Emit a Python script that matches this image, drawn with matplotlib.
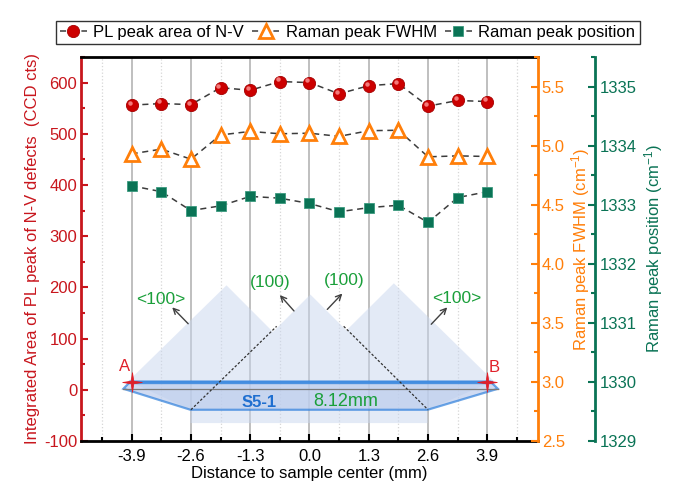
import matplotlib
matplotlib.use("Agg")
import matplotlib.pyplot as plt
import matplotlib.transforms as mtransforms
from matplotlib.patches import Polygon
from matplotlib.path import Path
from matplotlib.ticker import FixedLocator, MultipleLocator

plt.rcParams["font.family"] = ["Liberation Sans", "DejaVu Sans"]
plt.rcParams["mathtext.fontset"] = "custom"
plt.rcParams["mathtext.rm"] = "Liberation Sans"
plt.rcParams["mathtext.it"] = "Liberation Sans:italic"
plt.rcParams["axes.unicode_minus"] = False

# measured points along the A-B line (mm from centre)
distance = [-3.9, -3.25, -2.6, -1.95, -1.3, -0.65, 0.0, 0.65, 1.3, 1.95, 2.6, 3.25, 3.9]
pl_area = [556, 559, 557, 590, 585, 602, 600, 578, 594, 598, 554, 565, 563]
raman_fwhm = [4.93, 4.97, 4.885, 5.09, 5.12, 5.10, 5.105, 5.078, 5.126, 5.13, 4.905, 4.913, 4.908]
raman_pos = [1333.32, 1333.22, 1332.90, 1332.98, 1333.14, 1333.11, 1333.02,
             1332.88, 1332.95, 1332.99, 1332.70, 1333.12, 1333.22]

x_ticks = [-3.9, -2.6, -1.3, 0.0, 1.3, 2.6, 3.9]
x_minor = [-4.55, -3.25, -1.95, -0.65, 0.65, 1.95, 3.25, 4.55]
x_ticklabels = ["-3.9", "-2.6", "-1.3", "0.0", "1.3", "2.6", "3.9"]

# sample sketch drawn in (distance, PL area) coordinates
growth_x = [-3.97, -1.82, -0.80, 0.02, 0.81, 1.85, 4.04, 2.59, 2.59, -2.61, -2.61]
growth_y = [17, 204, 113, 186, 116, 208, 17, -39, -65, -65, -39]
slab_x = [-3.93, 3.97, 4.13, 2.59, -2.61, -4.08]
slab_y = [16, 16, 2, -39, -39, 2]

RED = "#C8161D"
ORANGE = "#FF7F0A"
GREEN = "#0A7355"
LABEL_GREEN = "#1A9F3A"

# thin four-point star for the A / B markers
w = 0.13
star = Path([(0, 1), (w, w), (1, 0), (w, -w), (0, -1), (-w, -w), (-1, 0), (-w, w), (0, 1)],
            [Path.MOVETO] + [Path.LINETO] * 7 + [Path.CLOSEPOLY])

fig = plt.figure(figsize=(6.75, 4.95), dpi=100)
ax1 = fig.add_axes([0.1207, 0.1091, 0.6756, 0.7758])
ax2 = ax1.twinx()
ax3 = ax1.twinx()
ax3.spines["right"].set_position(("axes", 1.127))

# grid
ax1.set_xlim(-5, 5)
ax1.xaxis.set_major_locator(FixedLocator(x_ticks))
ax1.xaxis.set_minor_locator(FixedLocator(x_minor))
ax1.set_xticklabels(x_ticklabels)
ax1.grid(True, axis="x", which="major", color="#b4b4b4", lw=1.2, ls="-")
ax1.grid(True, axis="x", which="minor", color="#d6d6d6", lw=0.9, ls=":")
ax1.set_axisbelow(True)

# sketch of the sample
ax1.add_patch(Polygon(list(zip(growth_x, growth_y)), closed=True,
                      facecolor="#c9d6ee", edgecolor="none", alpha=0.5, zorder=1))
ax1.add_patch(Polygon(list(zip(slab_x, slab_y)), closed=True,
                      facecolor="#bccded", edgecolor="#2f80dc", lw=1.6, alpha=0.7, zorder=2))
ax1.plot([-3.93, 3.97], [16, 16], color="#3f8be0", lw=2.4, alpha=0.9, zorder=3)
ax1.plot([-4.08, 4.13], [2, 2], color="#7a7a7a", lw=0.9, zorder=3)
ax1.plot([-2.6, -0.72], [-39, 124], color="#333333", lw=0.9, ls=(0, (2, 1.5)), zorder=3)
ax1.plot([0.75, 2.6], [124, -39], color="#333333", lw=0.9, ls=(0, (2, 1.5)), zorder=3)
ax1.plot([-3.9, 3.9], [16, 16], ls="none", marker=star, ms=14,
         color="#e0202a", mew=0.6, zorder=4)
ax1.text(-4.05, 46, "A", color="#e0202a", fontsize=12, ha="center", va="center")
ax1.text(4.05, 43, "B", color="#e0202a", fontsize=12, ha="center", va="center")
ax1.text(-1.1, -25, "S5-1", color="#1f6fd0", fontsize=12, fontweight="bold",
         ha="center", va="center", zorder=5)
ax1.text(0.79, -22, "8.12mm", color=LABEL_GREEN, fontsize=13,
         ha="center", va="center", zorder=5)

arrow = dict(arrowstyle="->", color="#404040", lw=1, shrinkA=0, shrinkB=0)
ax1.annotate("", xy=(-3.01, 161), xytext=(-2.66, 129), arrowprops=arrow)
ax1.annotate("", xy=(-0.65, 185), xytext=(-0.34, 154), arrowprops=arrow)
ax1.annotate("", xy=(0.72, 188), xytext=(0.39, 157), arrowprops=arrow)
ax1.annotate("", xy=(3.02, 161), xytext=(2.67, 128), arrowprops=arrow)
ax1.text(-3.27, 177, "<100>", color=LABEL_GREEN, fontsize=12.5, ha="center", va="center")
ax1.text(-0.86, 210, "(100)", color=LABEL_GREEN, fontsize=12.5, ha="center", va="center")
ax1.text(0.75, 213, "(100)", color=LABEL_GREEN, fontsize=12.5, ha="center", va="center")
ax1.text(3.24, 179, "<100>", color=LABEL_GREEN, fontsize=12.5, ha="center", va="center")

# data series
h1, = ax1.plot(distance, pl_area, ls="--", dashes=(4, 3), color="#3c3c3c", lw=1.1,
               marker="o", ms=8.8, mfc="#cc0000", mec="#a50000", mew=0.6,
               label="PL peak area of N-V", zorder=6)
shine = mtransforms.offset_copy(ax1.transData, fig=fig, x=-1.5, y=1.5, units="points")
ax1.plot(distance, pl_area, ls="none", marker="o", ms=3.2, mfc="#ff9a9a",
         mec="none", alpha=0.8, transform=shine, zorder=7)
h2, = ax2.plot(distance, raman_fwhm, ls="--", dashes=(4, 3), color="#3c3c3c", lw=1.1,
               marker="^", ms=9.5, mfc="white", mec=ORANGE, mew=2,
               label="Raman peak FWHM", zorder=6)
h3, = ax3.plot(distance, raman_pos, ls="--", dashes=(4, 3), color="#3c3c3c", lw=1.1,
               marker="s", ms=7.8, mfc=GREEN, mec="#3b9a7e", mew=0.6,
               label="Raman peak position", zorder=6)

# left axis
ax1.set_ylim(-100, 650)
ax1.yaxis.set_major_locator(MultipleLocator(100))
ax1.yaxis.set_minor_locator(MultipleLocator(50))
ax1.set_ylabel("Integrated Area of PL peak of N-V defects  (CCD cts)",
               color=RED, fontsize=12, labelpad=3)
ax1.set_xlabel("Distance to sample center (mm)", fontsize=12, labelpad=1)
ax1.spines["left"].set_color(RED)
ax1.spines["left"].set_linewidth(2)
ax1.spines["bottom"].set_linewidth(2)
ax1.spines["top"].set_linewidth(2)
ax1.spines["right"].set_visible(False)
ax1.tick_params(axis="y", which="both", colors=RED, direction="in", width=1.5, labelsize=12, pad=3)
ax1.tick_params(axis="y", which="major", length=5)
ax1.tick_params(axis="y", which="minor", length=3)
ax1.tick_params(axis="x", which="both", direction="in", width=1.5, labelsize=12, pad=6)
ax1.tick_params(axis="x", which="major", length=5)
ax1.tick_params(axis="x", which="minor", length=3)

# FWHM axis
ax2.set_ylim(2.5, 5.75)
ax2.yaxis.set_major_locator(MultipleLocator(0.5))
ax2.yaxis.set_minor_locator(MultipleLocator(0.25))
ax2.yaxis.set_major_formatter("{x:.1f}")
ax2.set_ylabel("Raman peak FWHM (cm$^{-1}$)", color=ORANGE, fontsize=12, labelpad=3)
for name in ["left", "top", "bottom"]:
    ax2.spines[name].set_visible(False)
ax2.spines["right"].set_color(ORANGE)
ax2.spines["right"].set_linewidth(2)
ax2.tick_params(axis="y", which="both", colors=ORANGE, direction="in", width=1.5, labelsize=12, pad=3)
ax2.tick_params(axis="y", which="major", length=5)
ax2.tick_params(axis="y", which="minor", length=3)

# Raman position axis
ax3.set_ylim(1329, 1335.5)
ax3.yaxis.set_major_locator(MultipleLocator(1))
ax3.yaxis.set_minor_locator(MultipleLocator(0.5))
ax3.set_ylabel("Raman peak position (cm$^{-1}$)", color=GREEN, fontsize=12, labelpad=4)
for name in ["left", "top", "bottom"]:
    ax3.spines[name].set_visible(False)
ax3.spines["right"].set_color(GREEN)
ax3.spines["right"].set_linewidth(2)
ax3.tick_params(axis="y", which="both", colors=GREEN, direction="in", width=1.5, labelsize=12, pad=3)
ax3.tick_params(axis="y", which="major", length=5)
ax3.tick_params(axis="y", which="minor", length=3)

leg = fig.legend(handles=[h1, h2, h3], loc="center", bbox_to_anchor=(0.515, 0.935),
                 ncol=3, fontsize=12, frameon=True, fancybox=False, edgecolor="black",
                 handlelength=1.6, handletextpad=0.4, columnspacing=0.5,
                 borderpad=0.25, borderaxespad=0)
leg.get_frame().set_linewidth(1)

fig.savefig("out.png", dpi=100)
